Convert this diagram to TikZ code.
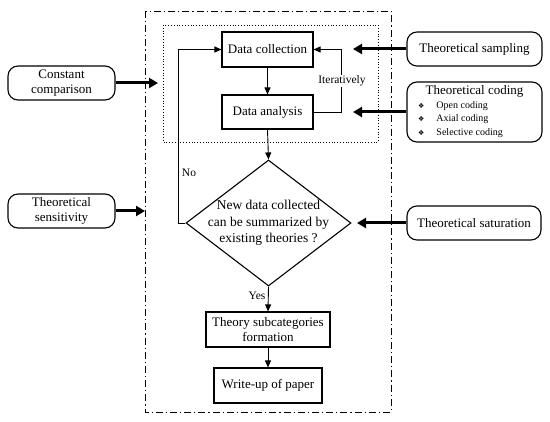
\documentclass[tikz,border=0pt]{standalone}
\usepackage{fontspec}
\setmainfont{Liberation Serif}
\newfontfamily\dejavu{DejaVu Sans}
\usetikzlibrary{arrows.meta,shapes.geometric}
\begin{document}
\begin{tikzpicture}[x=1pt,y=-1pt,
  box/.style={draw,line width=1.1pt,inner sep=0pt,align=center,font=\fontsize{13}{15.5}\selectfont},
  rbox/.style={box,rounded corners=10pt},
  flow/.style={line width=0.9pt,-{Triangle[length=7pt,width=6pt]}},
  thick arrow/.style={line width=3pt,-{Triangle[length=9pt,width=10pt]}},
  lab/.style={font=\fontsize{11.5}{13}\selectfont,inner sep=1pt}]
\useasboundingbox (0,0) rectangle (550,422);
% frames
\draw[line width=0.8pt,dash pattern=on 7pt off 3pt on 1.2pt off 3pt] (145,11) rectangle (391,412);
\draw[line width=0.8pt,dotted] (163,25) rectangle (378,142);
% main flow
\node[box,minimum width=91pt,minimum height=35pt] (dc) at (267.5,49.5) {Data collection};
\node[box,minimum width=91pt,minimum height=34pt] (da) at (267.5,112) {Data analysis};
\node[draw,diamond,line width=1.1pt,minimum width=165pt,minimum height=126pt,inner sep=0pt] (dec) at (268.5,223) {};
\node[align=center,font=\fontsize{13.5}{16.3}\selectfont,inner sep=0pt] (dect) at (dec.center) {New data collected\\can be summarized by\\existing theories ?};
\node[box,minimum width=124pt,minimum height=35pt] (th) at (268,329.5) {Theory subcategories\\formation};
\node[box,minimum width=108pt,minimum height=35pt] (wu) at (268,385.5) {Write-up of paper};
% side boxes
\node[rbox,minimum width=135pt,minimum height=34pt] (samp) at (474.5,49) {Theoretical sampling};
\node[rbox,minimum width=135pt,minimum height=60pt] (cod) at (474.5,112) {};
\node[font=\fontsize{13}{15}\selectfont,inner sep=0pt] (codt) at (474.5,91) {Theoretical coding};
\node[anchor=west,inner sep=0pt,font=\fontsize{10}{12}\selectfont] (c1) at (418,106) {{\dejavu\fontsize{7}{8}\selectfont ❖}\hspace{12pt}Open coding};
\node[anchor=west,inner sep=0pt,font=\fontsize{10}{12}\selectfont] (c2) at (418,119) {{\dejavu\fontsize{7}{8}\selectfont ❖}\hspace{12pt}Axial coding};
\node[anchor=west,inner sep=0pt,font=\fontsize{10}{12}\selectfont] (c3) at (418,133) {{\dejavu\fontsize{7}{8}\selectfont ❖}\hspace{12pt}Selective coding};
\node[rbox,minimum width=134pt,minimum height=34pt] (sat) at (474,223) {Theoretical saturation};
\node[rbox,minimum width=107pt,minimum height=34pt] (cc) at (61.5,83) {Constant\\comparison};
\node[rbox,minimum width=107pt,minimum height=34pt] (sens) at (61.5,211) {Theoretical\\sensitivity};
% coordinates
\coordinate (tsamp) at (353,49);
\coordinate (tcod) at (353,112);
\coordinate (tsat) at (357,223);
\coordinate (tcc) at (158,83);
\coordinate (tsens) at (145,211);
\coordinate (itr) at (341,112);
\coordinate (itl) at (341,49.5);
\coordinate (nob) at (178,223);
\coordinate (not) at (178,49.5);
% flow arrows
\draw[flow] (dc.south) -- (da.north);
\draw[flow] (da.south) -- (dec.north);
\draw[flow] (dec.south) -- (th.north);
\draw[flow] (th.south) -- (wu.north);
\draw[flow] (da.east) -- (itr) -- (itl) -- (dc.east);
\draw[flow] (dec.west) -- (nob) -- (not) -- (dc.west);
% labels
\node[lab,fill=white] (it) at (342,81) {Iteratively};
\node[lab] (no) at (189,173) {No};
\node[lab] (yes) at (257,296) {Yes};
% thick arrows
\draw[thick arrow] (samp.west) -- (tsamp);
\draw[thick arrow] (cod.west |- tcod) -- (tcod);
\draw[thick arrow] (sat.west) -- (tsat);
\draw[thick arrow] (cc.east) -- (tcc);
\draw[thick arrow] (sens.east) -- (tsens);
\end{tikzpicture}
\end{document}
